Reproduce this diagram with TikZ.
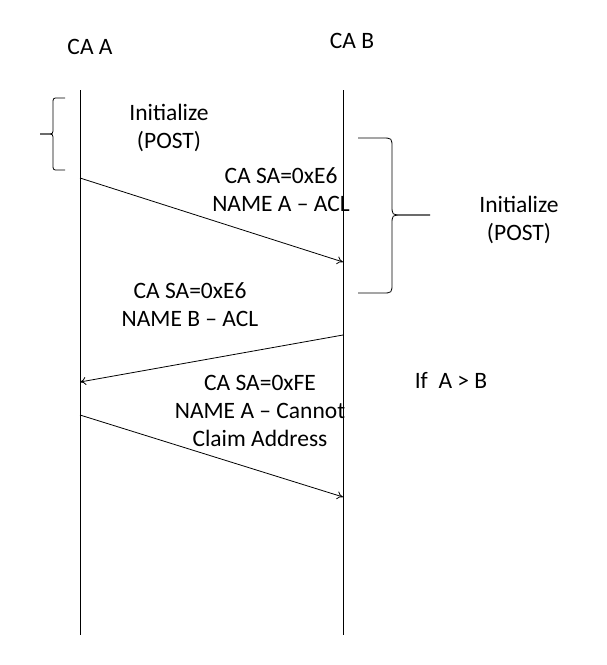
\documentclass[tikz,border=0pt]{standalone}
\usepackage{fontspec}
\setmainfont{Carlito}
\usetikzlibrary{arrows.meta}
\begin{document}
\begin{tikzpicture}[x=1pt,y=-1pt,
  life/.style={line width=0.8pt},
  msg/.style={line width=0.8pt,-{To[length=6pt,width=8pt]}},
  lbl/.style={align=center,font=\fontsize{23.5pt}{28pt}\selectfont},
  br/.style={line width=0.8pt}]
\useasboundingbox (0,0) rectangle (607,665);
\node[lbl] (ca) at (90,47) {CA A};
\node[lbl] (cb) at (352,41) {CA B};
\coordinate (a0) at (80,90); \coordinate (a1) at (80,635);
\coordinate (b0) at (343,90); \coordinate (b1) at (343,635);
\draw[life] (a0) -- (a1);
\draw[life] (b0) -- (b1);
\coordinate (lb1) at (65,170); \coordinate (lb2) at (65,98);
\draw[br] (lb2) -- (58,98) .. controls (53,98) .. (53,104) -- (53,128)
  .. controls (53,134) .. (47,134) -- (40,134);
\draw[br] (40,134) -- (47,134) .. controls (53,134) .. (53,140) -- (53,164)
  .. controls (53,170) .. (58,170) -- (lb1);
\node[lbl] (i1) at (169,128) {Initialize\\(POST)};
\coordinate (rb1) at (358,138); \coordinate (rb2) at (358,293);
\draw[br] (rb1) -- (382,138) .. controls (392,138) .. (392,148) -- (392,205)
  .. controls (392,215) .. (402,215) -- (430,215);
\draw[br] (430,215) -- (402,215) .. controls (392,215) .. (392,225) -- (392,283)
  .. controls (392,293) .. (382,293) -- (rb2);
\node[lbl] (i2) at (519,220) {Initialize\\(POST)};
\coordinate (m1s) at (80,178); \coordinate (m1e) at (343,262);
\draw[msg] (m1s) -- (m1e);
\node[lbl] (l1) at (281,190) {CA SA=0xE6\\NAME A – ACL};
\coordinate (m2s) at (343,335); \coordinate (m2e) at (80,382);
\draw[msg] (m2s) -- (m2e);
\node[lbl] (l2) at (190,305) {CA SA=0xE6\\NAME B – ACL};
\coordinate (m3s) at (80,415); \coordinate (m3e) at (343,497);
\draw[msg] (m3s) -- (m3e);
\node[lbl] (l3) at (260,411) {CA SA=0xFE\\NAME A – Cannot\\Claim Address};
\node[lbl] (c) at (451,380) {If\ \ A > B};
\end{tikzpicture}
\end{document}
